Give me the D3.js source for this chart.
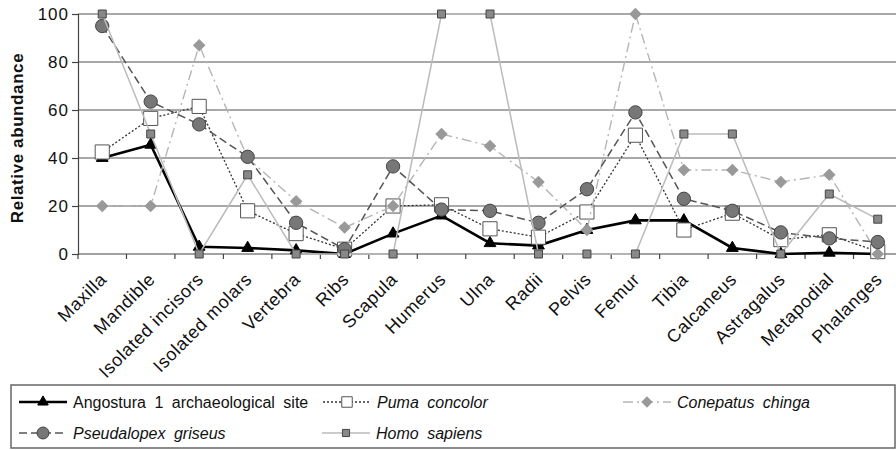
<!DOCTYPE html>
<html>
<head>
<meta charset="utf-8">
<script src="https://cdn.jsdelivr.net/npm/d3@7"></script>
<style>
  body { margin: 0; background: #fff; }
  svg { display: block; font-family: "Liberation Sans", Arial, sans-serif; }
</style>
</head>
<body>
<div id="chart"></div>
<script>
var categories = ["Maxilla","Mandible","Isolated incisors","Isolated molars","Vertebra","Ribs","Scapula","Humerus","Ulna","Radii","Pelvis","Femur","Tibia","Calcaneus","Astragalus","Metapodial","Phalanges"]
var yTicks = [0, 20, 40, 60, 80, 100]

var angostura   = [40, 45.5, 3, 2.5, 1.5, 0, 8.5, 16, 4.5, 3.5, 10, 14, 14, 2.5, 0, 0.5, 0]
var puma        = [42.5, 56.5, 61.5, 18, 8.5, 2, 20, 20.5, 10.5, 7, 17.5, 49.5, 10, 17, 6, 8, 1]
var conepatus   = [20, 20, 87, 40, 22, 11, 20, 50, 45, 30, 10, 100, 35, 35, 30, 33, 0]
var pseudalopex = [95, 63.5, 54, 40.5, 13, 2, 36.5, 18.5, 18, 13, 27, 59, 23, 18, 9, 6.5, 5]
var homo        = [100, 50, 0, 33, 0, 0, 0, 100, 100, 0, 0, 0, 50, 50, 0, 25, 14.5]

var seriesNames = ["Angostura 1 archaeological site","Puma concolor","Conepatus chinga","Pseudalopex griseus","Homo sapiens"]

var width = 896, height = 450;
var plotLeft = 78, plotRight = 902, plotTop = 14, plotBottom = 254;

var svg = d3.select("#chart").append("svg")
  .attr("width", width)
  .attr("height", height);

var x = d3.scalePoint()
  .domain(categories)
  .range([plotLeft, plotRight])
  .padding(0.5);

var y = d3.scaleLinear()
  .domain([0, 100])
  .range([plotBottom, plotTop]);

var step = x.step();

// gridlines
svg.append("g")
  .selectAll("line")
  .data(yTicks.filter(d => d > 0))
  .enter().append("line")
  .attr("x1", plotLeft).attr("x2", width)
  .attr("y1", d => y(d)).attr("y2", d => y(d))
  .attr("stroke", "#555")
  .attr("stroke-width", 1.2);

// y axis
var yAxis = svg.append("g")
  .attr("transform", "translate(" + plotLeft + ",0)")
  .call(d3.axisLeft(y).tickValues(yTicks).tickSize(6).tickPadding(3));
yAxis.select(".domain").attr("stroke", "#444").attr("stroke-width", 1.2);
yAxis.selectAll(".tick line").attr("stroke", "#444").attr("stroke-width", 1.2);
yAxis.selectAll("text")
  .attr("font-size", 17)
  .attr("letter-spacing", 1)
  .attr("fill", "#111")
  .attr("font-family", "Liberation Sans, Arial, sans-serif");

// x axis
svg.append("line")
  .attr("x1", plotLeft).attr("x2", width)
  .attr("y1", plotBottom).attr("y2", plotBottom)
  .attr("stroke", "#444")
  .attr("stroke-width", 1.2);

svg.append("g")
  .selectAll("line")
  .data(d3.range(categories.length + 1))
  .enter().append("line")
  .attr("x1", i => x(categories[0]) - step / 2 + i * step)
  .attr("x2", i => x(categories[0]) - step / 2 + i * step)
  .attr("y1", plotBottom).attr("y2", plotBottom + 5)
  .attr("stroke", "#444")
  .attr("stroke-width", 1.2);

svg.append("g")
  .selectAll("text")
  .data(categories)
  .enter().append("text")
  .attr("transform", d => "translate(" + (x(d) + 1) + "," + (plotBottom + 22) + ") rotate(-45)")
  .attr("text-anchor", "end")
  .attr("dy", "0.35em")
  .attr("font-size", 18)
  .attr("letter-spacing", 0.6)
  .attr("fill", "#111")
  .text(d => d);

// y title
svg.append("text")
  .attr("transform", "translate(23," + ((plotTop + plotBottom) / 2 + 4) + ") rotate(-90)")
  .attr("text-anchor", "middle")
  .attr("font-size", 17)
  .attr("font-weight", "bold")
  .attr("letter-spacing", 0.6)
  .attr("fill", "#111")
  .text("Relative abundance");

var line = d3.line()
  .x((d, i) => x(categories[i]))
  .y(d => y(d));

var styles = [
  {data: angostura, stroke: "#000", width: 2.6, dash: null, sym: d3.symbolTriangle, size: 60, fill: "#000", sstroke: "#000", rot: 0},
  {data: puma, stroke: "#333", width: 1.3, dash: "2,2", sym: d3.symbolSquare, size: 200, fill: "#fff", sstroke: "#555", rot: 0},
  {data: conepatus, stroke: "#b5b5b5", width: 1.4, dash: "10,4,2,4", sym: d3.symbolSquare, size: 62, fill: "#999", sstroke: "#999", rot: 45},
  {data: pseudalopex, stroke: "#555", width: 1.5, dash: "8,4", sym: d3.symbolCircle, size: 140, fill: "#777", sstroke: "#444", rot: 0},
  {data: homo, stroke: "#bbb", width: 1.5, dash: null, sym: d3.symbolSquare, size: 64, fill: "#888", sstroke: "#444", rot: 0}
];

styles.forEach(function(s) {
  var g = svg.append("g");
  g.append("path")
    .datum(s.data)
    .attr("d", line)
    .attr("fill", "none")
    .attr("stroke", s.stroke)
    .attr("stroke-width", s.width)
    .attr("stroke-dasharray", s.dash);
  g.selectAll("path.pt")
    .data(s.data)
    .enter().append("path")
    .attr("class", "pt")
    .attr("d", d3.symbol().type(s.sym).size(s.size))
    .attr("transform", (d, i) => "translate(" + x(categories[i]) + "," + y(d) + ") rotate(" + s.rot + ")")
    .attr("fill", s.fill)
    .attr("stroke", s.sstroke)
    .attr("stroke-width", 1);
});

// legend
svg.append("rect")
  .attr("x", 11).attr("y", 385)
  .attr("width", 884).attr("height", 63)
  .attr("fill", "#fff")
  .attr("stroke", "#666")
  .attr("stroke-width", 1.5);

var legPos = [[19, 402], [323, 402], [623, 402], [19, 433], [322, 433]];

seriesNames.forEach(function(name, i) {
  var s = styles[i];
  var lx = legPos[i][0], ly = legPos[i][1];
  var g = svg.append("g");
  g.append("line")
    .attr("x1", lx).attr("x2", lx + 48)
    .attr("y1", ly).attr("y2", ly)
    .attr("stroke", s.stroke)
    .attr("stroke-width", s.width)
    .attr("stroke-dasharray", s.dash);
  g.append("path")
    .attr("d", d3.symbol().type(s.sym).size(i == 1 ? 110 : s.size * 0.8))
    .attr("transform", "translate(" + (lx + 24) + "," + ly + ") rotate(" + s.rot + ")")
    .attr("fill", s.fill)
    .attr("stroke", s.sstroke)
    .attr("stroke-width", 1);
  g.append("text")
    .attr("x", lx + 54)
    .attr("y", ly)
    .attr("dy", "0.35em")
    .attr("font-size", 16)
    .attr("word-spacing", 4)
    .attr("font-style", i == 0 ? "normal" : "italic")
    .attr("fill", "#111")
    .text(name);
});
</script>
</body>
</html>
